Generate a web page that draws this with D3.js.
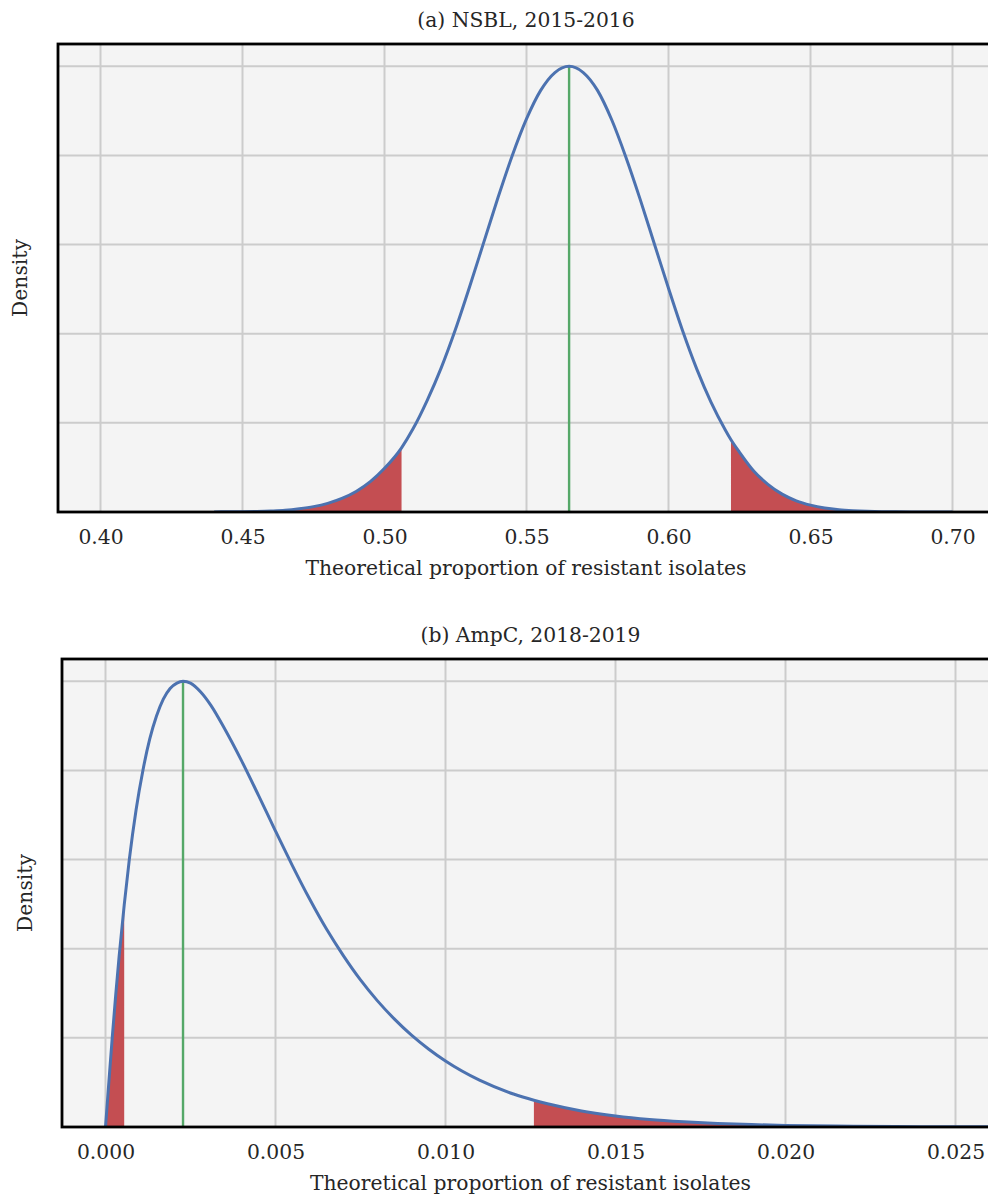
<!DOCTYPE html>
<html>
<head>
<meta charset="utf-8">
<script src="https://cdn.jsdelivr.net/npm/d3@7"></script>
<style>
  body { margin: 0; background: #ffffff; }
  svg { display: block; }
  text { font-family: "DejaVu Serif", serif; fill: #262626; }
</style>
</head>
<body>
<div id="chart"></div>
<script>

// (a) NSBL, 2015-2016 -- density (grid units, peak = 5)
const nsblX = [0.440, 0.445, 0.450, 0.455, 0.460, 0.465, 0.470, 0.475, 0.480, 0.485,
    0.490, 0.495, 0.500, 0.506, 0.510, 0.515, 0.520, 0.525, 0.530, 0.535,
    0.540, 0.545, 0.550, 0.555, 0.560, 0.565, 0.570, 0.575, 0.580, 0.585,
    0.590, 0.595, 0.600, 0.605, 0.610, 0.615, 0.620, 0.622, 0.625, 0.630,
    0.635, 0.640, 0.645, 0.650, 0.655, 0.660, 0.665, 0.670, 0.675, 0.680,
    0.690, 0.700];
const nsblDensity = [0.001, 0.002, 0.003, 0.006, 0.011, 0.019, 0.036, 0.060, 0.097, 0.152,
    0.23, 0.34, 0.49, 0.72, 0.93, 1.25, 1.62, 2.05, 2.53, 3.03,
    3.53, 4.00, 4.41, 4.73, 4.93, 5.00, 4.93, 4.73, 4.40, 3.98,
    3.51, 3.01, 2.51, 2.03, 1.60, 1.23, 0.92, 0.81, 0.67, 0.46,
    0.31, 0.20, 0.125, 0.077, 0.045, 0.026, 0.015, 0.008, 0.004, 0.002,
    0.0005, 0];
const nsblMode = 0.565;
const nsblLower = 0.506;
const nsblUpper = 0.622;
const nsblTicks = [0.40, 0.45, 0.50, 0.55, 0.60, 0.65, 0.70];

// (b) AmpC, 2018-2019
const ampcX = [0.0000, 0.0001, 0.0002, 0.0003, 0.0004, 0.00055, 0.0007, 0.0009, 0.0011, 0.0013,
    0.0015, 0.0017, 0.0019, 0.0021, 0.00228, 0.0025, 0.0028, 0.0031, 0.0035, 0.0040,
    0.0045, 0.0050, 0.0055, 0.0060, 0.0065, 0.0070, 0.0075, 0.0080, 0.0085, 0.0090,
    0.0095, 0.0100, 0.0110, 0.0120, 0.0126, 0.0130, 0.0140, 0.0150, 0.0160, 0.0170,
    0.0180, 0.0190, 0.0200, 0.0220, 0.0240, 0.0260, 0.0280];
const ampcDensity = [0, 0.51, 1.01, 1.48, 1.91, 2.49, 3.00, 3.56, 4.00, 4.35,
    4.61, 4.80, 4.92, 4.98, 5.00, 4.98, 4.88, 4.73, 4.47, 4.11,
    3.72, 3.32, 2.93, 2.56, 2.22, 1.92, 1.65, 1.415, 1.21, 1.03,
    0.875, 0.74, 0.525, 0.37, 0.30, 0.26, 0.18, 0.124, 0.085, 0.059,
    0.040, 0.027, 0.018, 0.0085, 0.0038, 0.0017, 0.0008];
const ampcMode = 0.00228;
const ampcLower = 0.00055;
const ampcUpper = 0.0126;
const ampcTicks = [0.000, 0.005, 0.010, 0.015, 0.020, 0.025];

const densityTicks = [0, 1, 2, 3, 4, 5];

const W = 988, H = 1198;
const FONT = 20.3;

const svg = d3.select("#chart").append("svg")
    .attr("width", W)
    .attr("height", H);

function drawPanel(cfg) {
    let g = svg.append("g");

    let pts = cfg.xs.map(function (x, i) { return {x: x, y: cfg.ys[i]}; });

    let x = d3.scaleLinear()
        .domain([cfg.ticks[0], cfg.ticks[cfg.ticks.length - 1]])
        .range([cfg.x0, cfg.x1]);
    let y = d3.scaleLinear()
        .domain([0, 5.25])
        .range([cfg.bottom, cfg.top]);

    // background
    g.append("rect")
        .attr("x", cfg.left)
        .attr("y", cfg.top)
        .attr("width", cfg.right - cfg.left)
        .attr("height", cfg.bottom - cfg.top)
        .attr("fill", "#f4f4f4");

    // grid
    g.selectAll(".vgrid").data(cfg.ticks).enter().append("line")
        .attr("x1", function (d) { return x(d); })
        .attr("x2", function (d) { return x(d); })
        .attr("y1", cfg.top)
        .attr("y2", cfg.bottom)
        .attr("stroke", "#cccccc")
        .attr("stroke-width", 2);
    g.selectAll(".hgrid").data(densityTicks.slice(1)).enter().append("line")
        .attr("x1", cfg.left)
        .attr("x2", cfg.right)
        .attr("y1", function (d) { return y(d); })
        .attr("y2", function (d) { return y(d); })
        .attr("stroke", "#cccccc")
        .attr("stroke-width", 2);

    let clipId = "clip-" + cfg.id;
    g.append("clipPath").attr("id", clipId).append("rect")
        .attr("x", cfg.left)
        .attr("y", cfg.top)
        .attr("width", cfg.right - cfg.left)
        .attr("height", cfg.bottom - cfg.top);
    let inner = g.append("g").attr("clip-path", "url(#" + clipId + ")");

    let area = d3.area()
        .x(function (d) { return x(d.x); })
        .y0(y(0))
        .y1(function (d) { return y(d.y); })
        .curve(d3.curveMonotoneX);

    // tails
    inner.append("path")
        .datum(pts.filter(function (d) { return d.x <= cfg.lower; }))
        .attr("d", area)
        .attr("fill", "#c44e52");
    inner.append("path")
        .datum(pts.filter(function (d) { return d.x >= cfg.upper; }))
        .attr("d", area)
        .attr("fill", "#c44e52");

    // mode
    inner.append("line")
        .attr("x1", x(cfg.mode))
        .attr("x2", x(cfg.mode))
        .attr("y1", y(0))
        .attr("y2", y(5))
        .attr("stroke", "#55a868")
        .attr("stroke-width", 2.4);

    let line = d3.line()
        .x(function (d) { return x(d.x); })
        .y(function (d) { return y(d.y); })
        .curve(d3.curveMonotoneX);

    inner.append("path")
        .datum(pts)
        .attr("d", line)
        .attr("fill", "none")
        .attr("stroke", "#4c72b0")
        .attr("stroke-width", 3);

    // frame
    g.append("rect")
        .attr("x", cfg.left)
        .attr("y", cfg.top)
        .attr("width", cfg.right - cfg.left)
        .attr("height", cfg.bottom - cfg.top)
        .attr("fill", "none")
        .attr("stroke", "#000000")
        .attr("stroke-width", 2.8);

    // x axis labels
    let axis = g.append("g")
        .attr("transform", "translate(0," + cfg.bottom + ")")
        .call(d3.axisBottom(x).tickValues(cfg.ticks).tickSize(0).tickPadding(18).tickFormat(d3.format(cfg.fmt)));
    axis.select(".domain").remove();
    axis.selectAll("text")
        .attr("font-size", FONT)
        .attr("font-family", "DejaVu Serif")
        .attr("fill", "#262626");

    let cx = (cfg.left + cfg.right) / 2;

    g.append("text")
        .attr("x", cx)
        .attr("y", cfg.bottom + 63)
        .attr("text-anchor", "middle")
        .attr("font-size", FONT)
        .text("Theoretical proportion of resistant isolates");

    g.append("text")
        .attr("transform", "translate(" + cfg.ylabelX + "," + ((cfg.top + cfg.bottom) / 2) + ") rotate(-90)")
        .attr("text-anchor", "middle")
        .attr("font-size", FONT)
        .text("Density");

    g.append("text")
        .attr("x", cx)
        .attr("y", cfg.top - 17)
        .attr("text-anchor", "middle")
        .attr("font-size", FONT)
        .text(cfg.title);
}

drawPanel({
    id: "a", title: "(a) NSBL, 2015-2016",
    xs: nsblX, ys: nsblDensity, mode: nsblMode, lower: nsblLower, upper: nsblUpper,
    ticks: nsblTicks, fmt: ".2f",
    left: 58, right: 994, top: 44, bottom: 512, x0: 100.5, x1: 952.5, ylabelX: 27
});

drawPanel({
    id: "b", title: "(b) AmpC, 2018-2019",
    xs: ampcX, ys: ampcDensity, mode: ampcMode, lower: ampcLower, upper: ampcUpper,
    ticks: ampcTicks, fmt: ".3f",
    left: 62, right: 999, top: 659, bottom: 1127, x0: 105.5, x1: 955.5, ylabelX: 32
});

</script>
</body>
</html>
